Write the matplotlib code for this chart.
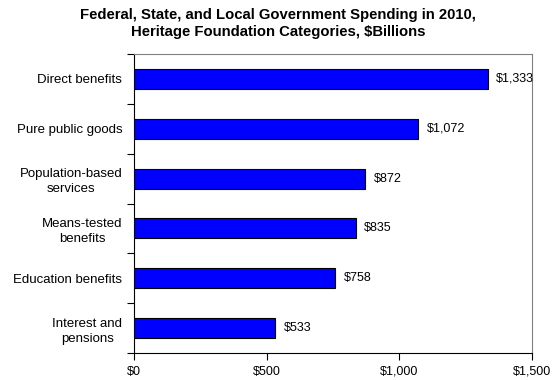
import matplotlib.pyplot as plt
import numpy as np

categories = ["Direct benefits", "Pure public goods", "Population-based\nservices",
              "Means-tested\nbenefits", "Education benefits", "Interest and\npensions"]
spending = [1333, 1072, 872, 835, 758, 533]
xticks = [0, 500, 1000, 1500]
xticklabels = ["$0", "$500", "$1,000", "$1,500"]

plt.rcParams['font.family'] = ['Liberation Sans', 'DejaVu Sans']

fig = plt.figure(figsize=(5.56, 3.8), dpi=100)
ax = fig.add_axes([134 / 556, 1 - 353 / 380, (532 - 134) / 556, (353 - 54) / 380])

y = np.arange(len(categories))
ax.barh(y, spending, height=0.4, color="#0000ff", edgecolor="black", linewidth=0.8)
for yi, v in zip(y, spending):
    ax.annotate("${:,}".format(v), (v, yi), xytext=(6, 0), textcoords="offset points",
                va="center", ha="left", fontsize=9)

ax.set_ylim(len(categories) - 0.5, -0.5)
ax.set_xlim(0, 1500)
ax.set_xticks(xticks)
ax.set_xticklabels(xticklabels, fontsize=9)
ax.set_yticks(y)
ax.set_yticklabels(categories, fontsize=9.5, linespacing=1.35, ha="right", multialignment="center")
ax.tick_params(axis="y", length=0, pad=8.5)
ax.set_yticks(np.arange(-0.5, len(categories), 1), minor=True)
ax.tick_params(axis="y", which="minor", length=5, width=0.8, direction="out")
ax.tick_params(axis="x", length=5, width=0.8, direction="out", pad=4)

ax.spines["left"].set_color("black")
ax.spines["bottom"].set_color("black")
ax.spines["top"].set_color("#808080")
ax.spines["right"].set_color("#808080")

fig.suptitle("Federal, State, and Local Government Spending in 2010,\nHeritage Foundation Categories, $Billions",
             x=0.5, y=0.98, fontsize=10.75, fontweight="bold", linespacing=1.3)

fig.savefig("out.png", dpi=100)
